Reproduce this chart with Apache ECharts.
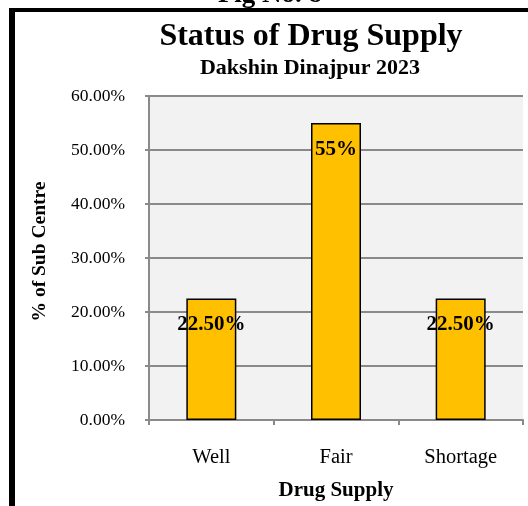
<!DOCTYPE html>
<html>
<head>
<meta charset="utf-8">
<script src="https://cdn.jsdelivr.net/npm/echarts@6/dist/echarts.min.js"></script>
<style>
  html, body { margin: 0; padding: 0; background: #ffffff; }
  #chart { width: 528px; height: 506px; }
</style>
</head>
<body>
<div id="chart"></div>
<script>
// Drug supply status across sub centres, Dakshin Dinajpur 2023
const categories = ['Well', 'Fair', 'Shortage'];
const shares = [22.5, 55, 22.5];            // % of sub centres
const shareLabels = ['22.50%', '55%', '22.50%'];
const yTicks = [0, 10, 20, 30, 40, 50, 60];

const serif = '"Liberation Serif", "Times New Roman", "DejaVu Serif", serif';
const gridGray = '#8a8a8a';

const chart = echarts.init(document.getElementById('chart'), null, { renderer: 'canvas' });

chart.setOption({
  animation: false,
  backgroundColor: '#ffffff',
  grid: {
    left: 149, right: 5, top: 96, bottom: 85,
    show: true, backgroundColor: '#f2f2f2', borderWidth: 0
  },
  xAxis: {
    type: 'category',
    data: categories,
    boundaryGap: true,
    axisLine: { lineStyle: { color: gridGray, width: 2 } },
    axisTick: { show: true, length: 5, lineStyle: { color: gridGray, width: 2 } },
    axisLabel: { color: '#000', fontFamily: serif, fontSize: 20.5, margin: 27 },
    name: 'Drug Supply',
    nameLocation: 'middle',
    nameGap: 60,
    nameTextStyle: { color: '#000', fontFamily: serif, fontSize: 21, fontWeight: 'bold' }
  },
  yAxis: {
    type: 'value',
    min: yTicks[0],
    max: yTicks[yTicks.length - 1],
    interval: 10,
    axisLine: { show: true, lineStyle: { color: gridGray, width: 2 } },
    axisTick: { show: true, length: 4, lineStyle: { color: gridGray, width: 2 } },
    splitLine: { show: true, lineStyle: { color: gridGray, width: 1.8 } },
    axisLabel: {
      color: '#000', fontFamily: serif, fontSize: 17.5, margin: 24,
      formatter: v => v.toFixed(2) + '%'
    },
    name: '% of Sub Centre',
    nameLocation: 'middle',
    nameGap: 99,
    nameTextStyle: {
      color: '#000', fontFamily: serif, fontSize: 19.5, fontWeight: 'bold',
      padding: [0, 0, 0, 13]
    }
  },
  series: [{
    type: 'bar',
    data: shares,
    barWidth: 50,
    itemStyle: { color: '#FFC000', borderColor: '#000', borderWidth: 1.5 },
    label: {
      show: true,
      position: 'insideTop',
      distance: 16,
      color: '#000',
      fontFamily: serif,
      fontSize: 21,
      fontWeight: 'bold',
      formatter: p => shareLabels[p.dataIndex]
    }
  }],
  graphic: [
    { type: 'rect', shape: { x: 9, y: 8, width: 6, height: 498 }, style: { fill: '#000' } },
    { type: 'rect', shape: { x: 9, y: 8, width: 519, height: 4 }, style: { fill: '#000' } },
    {
      type: 'text', x: 270, y: -5,
      style: { text: 'Fig No. 8', font: 'bold 27px ' + serif, fill: '#000', textAlign: 'center', textVerticalAlign: 'middle' }
    },
    {
      type: 'text', x: 311, y: 37,
      style: { text: 'Status of Drug Supply', font: 'bold 32px ' + serif, fill: '#000', textAlign: 'center', textVerticalAlign: 'middle' }
    },
    {
      type: 'text', x: 310, y: 68,
      style: { text: 'Dakshin Dinajpur 2023', font: 'bold 22px ' + serif, fill: '#000', textAlign: 'center', textVerticalAlign: 'middle' }
    }
  ]
});
</script>
</body>
</html>
